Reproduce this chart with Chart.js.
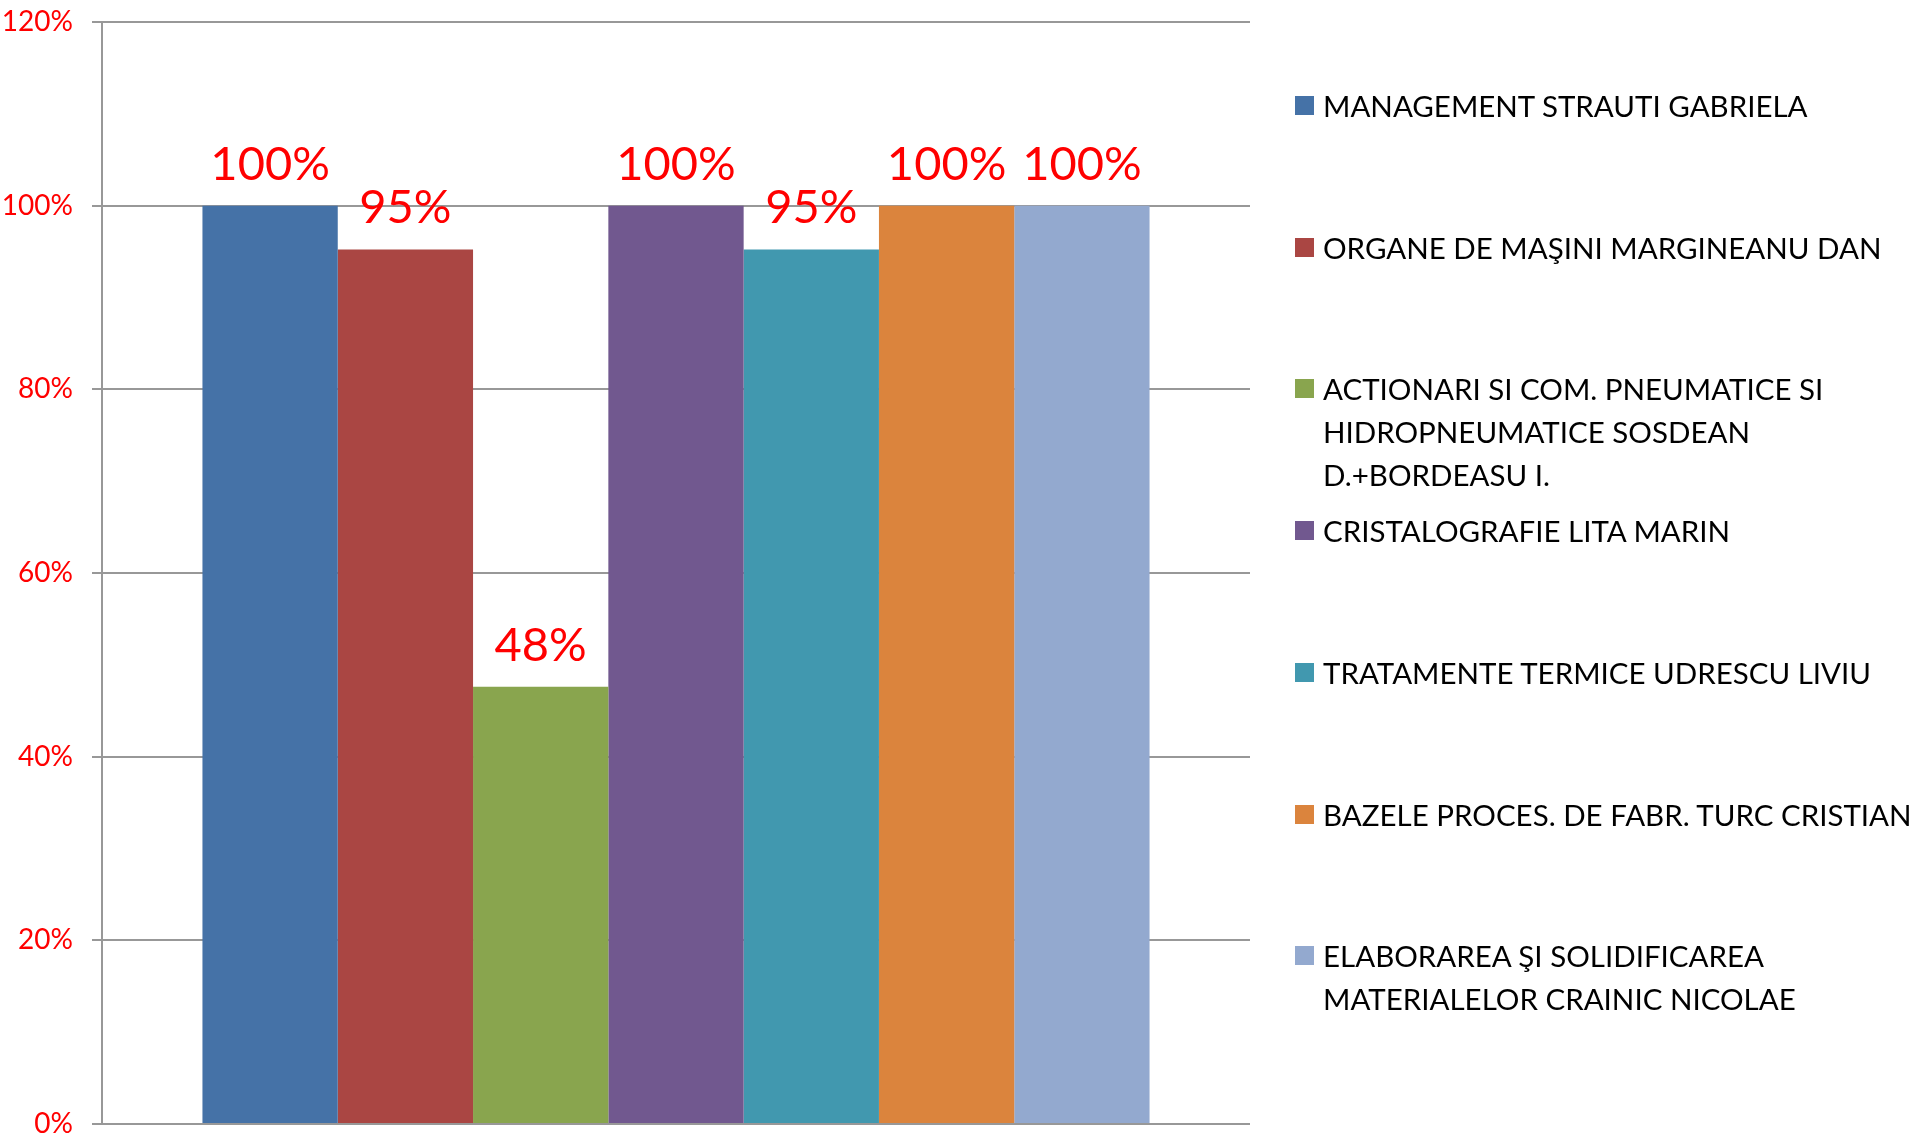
<!DOCTYPE html>
<html>
<head>
<meta charset="utf-8">
<script src="https://cdn.jsdelivr.net/npm/chart.js@4.4.0/dist/chart.umd.min.js"></script>
<style>
    html, body { margin: 0; padding: 0; background: #fff; }
    #wrap { position: relative; width: 1915px; height: 1137px; overflow: hidden; }
    #legend { position: absolute; left: 1295px; top: 0; width: 620px; font-family: Lato, "Open Sans", sans-serif; font-size: 29.5px; line-height: 43px; color: #000; }
    .item { position: absolute; left: 0; white-space: nowrap; }
    .box { position: absolute; left: 0; top: 12px; width: 19px; height: 19px; }
    .txt { position: absolute; left: 28px; }
</style>
</head>
<body>
<div id="wrap">
    <canvas id="chart" width="1915" height="1137"></canvas>
    <div id="legend"></div>
</div>
<script>
// one category, one dataset per course
const courses = [
    ["MANAGEMENT STRAUTI GABRIELA"],
    ["ORGANE DE MAŞINI MARGINEANU DAN"],
    ["ACTIONARI SI COM. PNEUMATICE SI", "HIDROPNEUMATICE SOSDEAN", "D.+BORDEASU I."],
    ["CRISTALOGRAFIE LITA MARIN"],
    ["TRATAMENTE TERMICE UDRESCU LIVIU"],
    ["BAZELE PROCES. DE FABR. TURC CRISTIAN"],
    ["ELABORAREA ŞI SOLIDIFICAREA", "MATERIALELOR CRAINIC NICOLAE"]
];
const values = [1.0, 0.9524, 0.4762, 1.0, 0.9524, 1.0, 1.0];
const colors = ["#4572A7", "#AA4643", "#89A54E", "#71588F", "#4198AF", "#DB843D", "#93A9CF"];
const y_ticks = [0, 0.2, 0.4, 0.6, 0.8, 1.0, 1.2];

function pct(v) {
    return Math.round(v * 100) + "%";
}

const valueLabels = {
    id: "valueLabels",
    afterDatasetsDraw(chart) {
        let ctx = chart.ctx;
        ctx.save();
        ctx.fillStyle = "#FF0000";
        ctx.font = "47px Lato, 'Open Sans', sans-serif";
        ctx.textAlign = "center";
        ctx.textBaseline = "alphabetic";
        chart.data.datasets.forEach((ds, i) => {
            let bar = chart.getDatasetMeta(i).data[0];
            ctx.fillText(pct(ds.data[0]), bar.x, bar.y - 26);
        });
        ctx.restore();
    }
};

let datasets = courses.map((name, i) => ({
    label: name.join(" "),
    data: [values[i]],
    backgroundColor: colors[i],
    borderWidth: 0
}));

new Chart(document.getElementById("chart"), {
    type: "bar",
    data: { labels: [""], datasets: datasets },
    options: {
        responsive: false,
        animation: false,
        layout: { padding: { left: 0, top: 22, right: 665, bottom: 13 } },
        datasets: { bar: { categoryPercentage: 0.825, barPercentage: 1.0 } },
        plugins: { legend: { display: false }, tooltip: { enabled: false } },
        scales: {
            x: { display: false },
            y: {
                min: 0,
                max: 1.2,
                afterBuildTicks: scale => { scale.ticks = y_ticks.map(v => ({ value: v })); },
                afterFit: scale => { scale.width = 102; scale.paddingTop = 0; scale.paddingBottom = 0; },
                border: { display: true, color: "#989898", width: 2 },
                grid: { color: "#989898", lineWidth: 2, tickLength: 10 },
                ticks: {
                    color: "#FF0000",
                    padding: 19,
                    font: { family: "Lato, 'Open Sans', sans-serif", size: 28 },
                    callback: v => pct(v)
                }
            }
        }
    },
    plugins: [valueLabels]
});

// legend on the right, one evenly spaced slot per course
let legend = document.getElementById("legend");
courses.forEach((name, i) => {
    let item = document.createElement("div");
    item.className = "item";
    item.style.top = Math.round(84 + i * 141.7) + "px";
    let box = document.createElement("div");
    box.className = "box";
    box.style.background = colors[i];
    let txt = document.createElement("div");
    txt.className = "txt";
    txt.innerHTML = name.join("<br>");
    item.appendChild(box);
    item.appendChild(txt);
    legend.appendChild(item);
});
</script>
</body>
</html>
